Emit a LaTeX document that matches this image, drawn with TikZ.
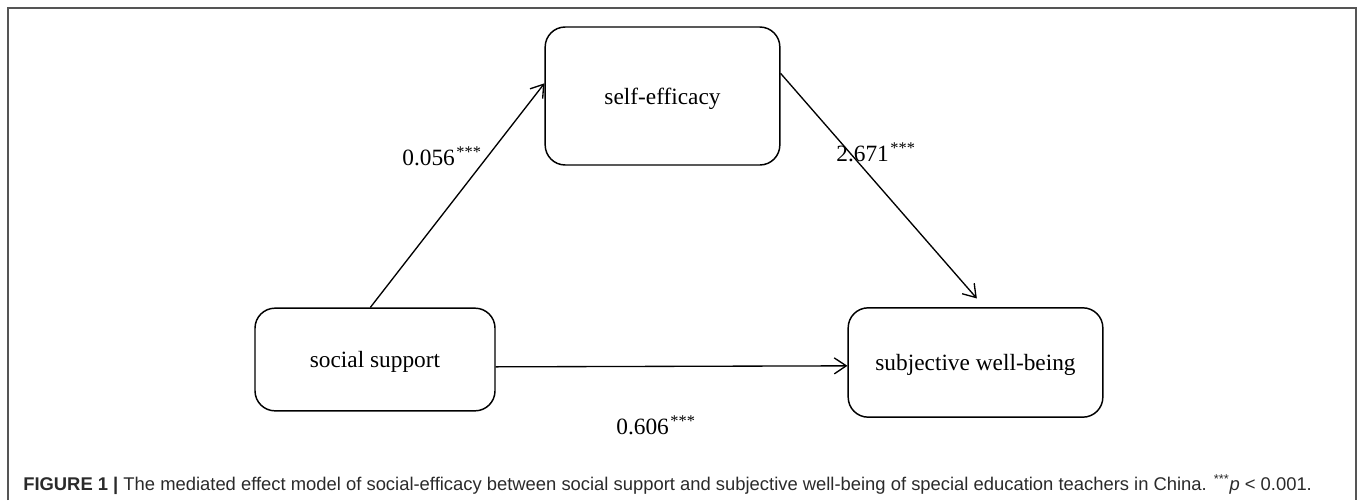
\documentclass[tikz,border=0pt]{standalone}
\usepackage{fontspec}
\setmainfont{Liberation Serif}
\newfontfamily\capfont{Liberation Sans}
\usetikzlibrary{arrows.meta}
\definecolor{framegray}{HTML}{555555}
\definecolor{capgray}{HTML}{2a2a2a}
\tikzset{
  varbox/.style={draw, line width=1.1pt, rounded corners=15pt, align=center,
    font=\fontsize{17.5}{20}\selectfont, inner sep=0pt, text height=14.5pt, text depth=1.8pt},
  path/.style={draw, line width=1pt, -{Straight Barb[length=9pt,width=12pt,line width=1pt]}},
  coef/.style={font=\fontsize{17.5}{20}\selectfont, inner sep=0pt},
}
\begin{document}
\begin{tikzpicture}[x=0.75pt,y=-0.75pt]
\useasboundingbox (0,0) rectangle (1358,500);
% frame
\draw[framegray, line width=1.5pt] (8,500) -- (8,8) -- (1356,8) -- (1356,500);
% boxes
\node[varbox, minimum width=176pt, minimum height=103.5pt] (se) at (662.5,96) {self-efficacy};
\node[varbox, minimum width=180pt, minimum height=77pt] (ss) at (375,359.5) {social support};
\node[varbox, minimum width=191pt, minimum height=82pt] (swb) at (975.5,362.5) {subjective well-being};
% paths
\draw[path] ([xshift=-3.5pt]ss.north) -- ([yshift=9.5pt]se.west);
\draw[path] ([yshift=17pt]se.east) -- ([yshift=6.5pt,xshift=1pt]swb.north);
\draw[path] ([yshift=-5.5pt]ss.east) -- ([yshift=-2.5pt]swb.west);
% coefficients
\node[coef] (c1) at (442,156) {0.056\kern1.2pt\textsuperscript{***}};
\node[coef] (c2) at (876,152) {2.671\kern1.2pt\textsuperscript{***}};
\node[coef] (c3) at (656,425) {0.606\kern1.2pt\textsuperscript{***}};
% caption
\node[anchor=base west, inner sep=0pt, text=capgray, font=\capfont\fontsize{13.8}{16}\selectfont] (cap) at (23,490)
  {\textbf{FIGURE 1 |} The mediated effect model of social-efficacy between social support and subjective well-being of special education teachers in China. \textsuperscript{***}\textit{p} {<} 0.001.};
\end{tikzpicture}
\end{document}
